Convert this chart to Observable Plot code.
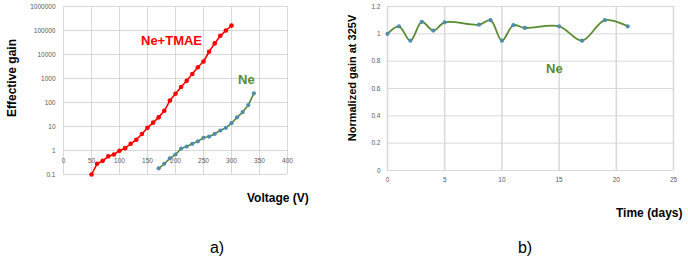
<!DOCTYPE html>
<html><head><meta charset="utf-8">
<script src="https://cdn.jsdelivr.net/npm/d3@7"></script>
<script src="https://cdn.jsdelivr.net/npm/@observablehq/plot@0.6"></script>
<style>
body{margin:0;background:#fff;}
#wrap{position:relative;width:688px;height:261px;overflow:hidden;font-family:"Liberation Sans",Arial,sans-serif;}
#wrap svg{position:absolute;top:0;}
.t{position:absolute;white-space:nowrap;font-weight:bold;color:#000;line-height:1;}
.rot{transform:translate(-50%,-50%) rotate(-90deg);}
.lv{transform:translateY(-50%);}
.c{transform:translate(-50%,-50%);}
</style></head><body><div id="wrap"></div>
<script>
// Panel a: Effective gain vs voltage
const voltTMAE = [50,60,70,80,90,100,110,120,130,140,150,160,170,180,190,200,210,220,230,240,250,260,270,280,290,300];
const gainTMAE = [0.1,0.28,0.37,0.57,0.68,0.98,1.25,1.9,2.8,4.9,8.8,14.5,24,45,120,230,440,800,1550,2950,5100,13000,29000,60000,100000,160000];
const voltNe = [170,180,190,200,210,220,230,240,250,260,270,280,290,300,310,320,330,340];
const gainNe = [0.18,0.28,0.47,0.68,1.2,1.47,1.9,2.4,3.4,3.8,4.9,6.8,8.8,13.8,24,40,78,240];
const voltTicks = [0,50,100,150,200,250,300,350,400];
const gainTicks = [0.1,1,10,100,1000,10000,100000,1000000];
// Panel b: Normalized gain vs time
const days = [0,1,2,3,4,5,8,9,10,11,12,15,17,19,21];
const normGain = [1.0,1.055,0.95,1.087,1.024,1.084,1.067,1.10,0.95,1.063,1.043,1.055,0.95,1.10,1.055];
const dayTicks = [0,5,10,15,20,25];
const normTicks = [0,0.2,0.4,0.6,0.8,1,1.2];

const RED = "#ff0000", GREEN = "#5a8a32", DOT = "#4f8cae", GRID = "#d9d9d9", TICK = "#595959";

const tmae = voltTMAE.map((v,i)=>({v, g: gainTMAE[i]}));
const ne = voltNe.map((v,i)=>({v, g: gainNe[i]}));
const stab = days.map((d,i)=>({d, g: normGain[i]}));

const pa = Plot.plot({
  width: 300, height: 261, marginLeft: 63, marginRight: 13, marginTop: 6, marginBottom: 87,
  x: {domain: [0,400], axis: null},
  y: {type: "log", domain: [0.1, 1e6], axis: null},
  style: {fontFamily: "Liberation Sans, Arial, sans-serif", background: "transparent"},
  marks: [
    Plot.gridX(voltTicks, {stroke: GRID, strokeOpacity: 1, strokeWidth: 1}),
    Plot.gridY(gainTicks, {stroke: GRID, strokeOpacity: 1, strokeWidth: 1}),
    Plot.text(gainTicks, {x: 0, y: d=>d, text: d=>String(d), textAnchor: "end", dx: -8, fill: TICK, fontSize: 6.5}),
    Plot.text(voltTicks, {x: d=>d, y: 1, text: d=>String(d), dy: 10, fill: TICK, fontSize: 6.5}),
    Plot.line(tmae, {x: "v", y: "g", stroke: RED, strokeWidth: 1.6}),
    Plot.dot(tmae, {x: "v", y: "g", fill: RED, r: 2.3}),
    Plot.line(ne, {x: "v", y: "g", stroke: GREEN, strokeWidth: 1.6}),
    Plot.dot(ne, {x: "v", y: "g", fill: DOT, r: 2.1})
  ]
});
pa.style.left = "0px";

const pb = Plot.plot({
  width: 348, height: 261, marginLeft: 47, marginRight: 15, marginTop: 6, marginBottom: 91,
  x: {domain: [0,25], axis: null},
  y: {domain: [0,1.2], axis: null},
  style: {fontFamily: "Liberation Sans, Arial, sans-serif", background: "transparent"},
  marks: [
    Plot.gridX(dayTicks, {stroke: GRID, strokeOpacity: 1, strokeWidth: 1.5}),
    Plot.gridY(normTicks, {stroke: GRID, strokeOpacity: 1, strokeWidth: 1}),
    Plot.text(normTicks, {x: 0, y: d=>d, text: d=>String(d), textAnchor: "end", dx: -7, fill: TICK, fontSize: 6.5}),
    Plot.text(dayTicks, {x: d=>d, y: 0, text: d=>String(d), dy: 9, fill: TICK, fontSize: 6.5}),
    Plot.line(stab, {x: "d", y: "g", stroke: GREEN, strokeWidth: 1.8, curve: "catmull-rom"}),
    Plot.dot(stab, {x: "d", y: "g", fill: DOT, r: 2.1})
  ]
});
pb.style.left = "340px";

const wrap = document.getElementById("wrap");
wrap.appendChild(pa);
wrap.appendChild(pb);

const labels = [
  {text: "Effective gain", cls: "rot", x: 12, y: 78, size: 12},
  {text: "Voltage (V)", cls: "lv", x: 247, y: 198, size: 12},
  {text: "a)", cls: "c", x: 217, y: 248, size: 16, normal: true},
  {text: "Normalized gain at 325V", cls: "rot", x: 352, y: 78, size: 11},
  {text: "Time (days)", cls: "lv", x: 616, y: 213, size: 12},
  {text: "b)", cls: "c", x: 525, y: 248, size: 16, normal: true},
  {text: "Ne+TMAE", cls: "lv", x: 141, y: 40, size: 13, color: RED},
  {text: "Ne", cls: "lv", x: 238, y: 79, size: 13, color: GREEN},
  {text: "Ne", cls: "lv", x: 546, y: 68, size: 13, color: GREEN}
];
for (const l of labels) {
  const d = document.createElement("div");
  d.className = "t " + l.cls;
  d.textContent = l.text;
  d.style.left = l.x + "px";
  d.style.top = l.y + "px";
  d.style.fontSize = l.size + "px";
  if (l.normal) d.style.fontWeight = "normal";
  if (l.color) d.style.color = l.color;
  wrap.appendChild(d);
}
</script>
</body></html>
